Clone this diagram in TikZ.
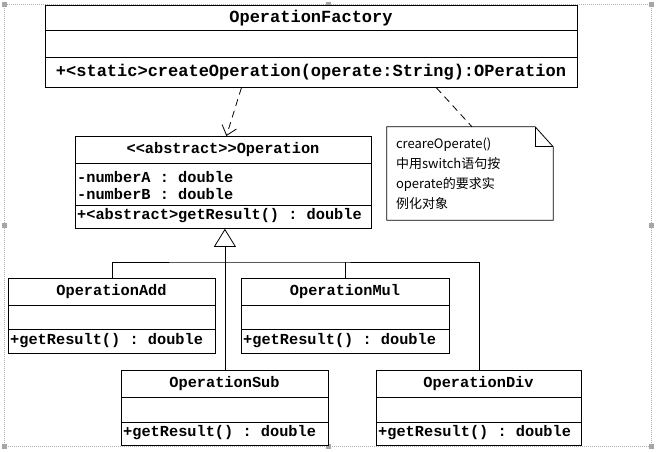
\documentclass[tikz,border=0pt]{standalone}
\usepackage{fontspec}
\setmonofont{Liberation Mono}
\newfontfamily\cjk{Noto Sans CJK SC}
\usetikzlibrary{arrows.meta}

\tikzset{
  classbox/.style={draw, line width=0.8pt, fill=white, inner sep=0pt, anchor=north west},
  bigtext/.style={font=\fontsize{17}{20}\selectfont\ttfamily\bfseries, inner sep=0pt},
  boxtext/.style={font=\fontsize{15.3}{18}\selectfont\ttfamily\bfseries, inner sep=0pt},
  notebox/.style={minimum width=166pt, minimum height=93pt, text width=148pt, inner xsep=9pt,
    align=left, font=\cjk\fontsize{13}{20}\selectfont},
  depline/.style={line width=0.8pt, dash pattern=on 7pt off 5pt},
  inherit/.style={line width=0.8pt},
}

\begin{document}
\begin{tikzpicture}[x=1pt,y=-1pt]
    \useasboundingbox (0,0) rectangle (657,451);
    % selection frame
    \draw[gray!60, line width=0.6pt, dash pattern=on 1pt off 1pt] (4,4) rectangle (651,446);
    \fill[gray!70] (1.5,1.5) rectangle ++(5,5);
    \fill[gray!70] (325.5,1.5) rectangle ++(5,5);
    \fill[gray!70] (648.5,1.5) rectangle ++(5,5);
    \fill[gray!70] (1.5,222.5) rectangle ++(5,5);
    \fill[gray!70] (648.5,222.5) rectangle ++(5,5);
    \fill[gray!70] (1.5,443.5) rectangle ++(5,5);
    \fill[gray!70] (325.5,443.5) rectangle ++(5,5);
    \fill[gray!70] (648.5,443.5) rectangle ++(5,5);

    % factory
    \node[classbox, minimum width=532pt, minimum height=82pt] (factory) at (45,5) {};
    \draw[line width=0.8pt] (factory.north west) ++(0,25) -- ++(532,0);
    \draw[line width=0.8pt] (factory.north west) ++(0,52) -- ++(532,0);
    \node[bigtext] (factoryname) at (311,18) {OperationFactory};
    \node[bigtext] (factoryop) at (311,72) {+<static>createOperation(operate:String):OPeration};

    % abstract class
    \node[classbox, minimum width=296pt, minimum height=92pt] (op) at (75,136) {};
    \draw[line width=0.8pt] (op.north west) ++(0,27) -- ++(296,0);
    \draw[line width=0.8pt] (op.north west) ++(0,69) -- ++(296,0);
    \node[boxtext] (opname) at (223,150) {<{}<abstract>{}>Operation};
    \node[boxtext, anchor=west] (numa) at (77,177) {-numberA : double};
    \node[boxtext, anchor=west] (numb) at (77,194) {-numberB : double};
    \node[boxtext, anchor=west] (opop) at (77,216) {+<abstract>getResult() : double};

    % subclasses
    \node[classbox, minimum width=207pt, minimum height=75pt] (add) at (8,278) {};
    \draw[line width=0.8pt] (add.north west) ++(0,27) -- ++(207,0);
    \draw[line width=0.8pt] (add.north west) ++(0,51) -- ++(207,0);
    \node[boxtext] (addname) at (111.5,292) {OperationAdd};
    \node[boxtext, anchor=west] (addop) at (10,341) {+getResult() : double};

    \node[classbox, minimum width=208pt, minimum height=75pt] (mul) at (241,278) {};
    \draw[line width=0.8pt] (mul.north west) ++(0,27) -- ++(208,0);
    \draw[line width=0.8pt] (mul.north west) ++(0,51) -- ++(208,0);
    \node[boxtext] (mulname) at (345,292) {OperationMul};
    \node[boxtext, anchor=west] (mulop) at (243,341) {+getResult() : double};

    \node[classbox, minimum width=207pt, minimum height=75pt] (sub) at (121,370) {};
    \draw[line width=0.8pt] (sub.north west) ++(0,27) -- ++(207,0);
    \draw[line width=0.8pt] (sub.north west) ++(0,52) -- ++(207,0);
    \node[boxtext] (subname) at (224.5,384) {OperationSub};
    \node[boxtext, anchor=west] (subop) at (123,433) {+getResult() : double};

    \node[classbox, minimum width=205pt, minimum height=75pt] (div) at (376,370) {};
    \draw[line width=0.8pt] (div.north west) ++(0,27) -- ++(205,0);
    \draw[line width=0.8pt] (div.north west) ++(0,52) -- ++(205,0);
    \node[boxtext] (divname) at (478.5,384) {OperationDiv};
    \node[boxtext, anchor=west] (divop) at (378,433) {+getResult() : double};

    % note
    \node[notebox] (note) at (470,173.5) {creareOperate()\\中用switch语句按\\operate的要求实\\例化对象};
    \draw[line width=0.8pt] (note.north west) -- ([xshift=-18pt]note.north east)
      -- ([yshift=-20pt]note.north east) -- (note.south east) -- (note.south west) -- cycle;
    \draw[line width=0.8pt] ([xshift=-18pt]note.north east) -- ([xshift=-18pt,yshift=-20pt]note.north east)
      -- ([yshift=-20pt]note.north east);

    % connectors
    \draw[depline, -{Straight Barb[length=9pt,width=15pt]}] ([xshift=-70pt]factory.south) -- ([xshift=3pt]op.north);
    \draw[depline] ([xshift=125pt]factory.south) -- ([xshift=2pt]note.north);
    \coordinate (fork) at (224.5,262);
    \draw[inherit, -{Triangle[open, length=18pt, width=22pt]}] (sub.north) -- (sub.north |- op.south);
    \draw[inherit] (add.north) |- (fork) -| (div.north);
    \draw[inherit] (mul.north) -- (mul.north |- fork);
  \end{tikzpicture}
\end{document}
